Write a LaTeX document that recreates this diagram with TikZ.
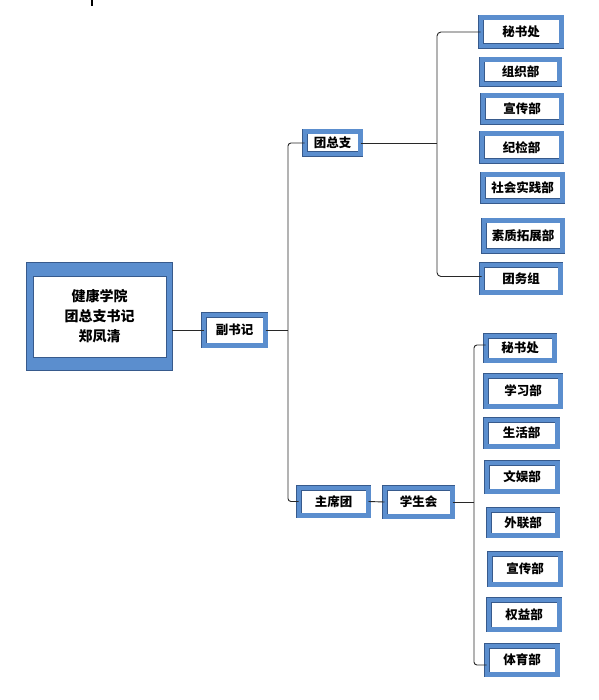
\documentclass[tikz,border=0pt]{standalone}
\usepackage{fontspec}
\newfontfamily\cjk{Noto Sans CJK SC}
\definecolor{boxblue}{RGB}{91,142,206}
\definecolor{edgec}{RGB}{55,90,140}
\definecolor{linec}{RGB}{40,40,40}
\tikzset{
  dept/.style={draw=edgec, double=boxblue, double distance=4.5pt, line width=0.5pt,
    fill=white, inner sep=0pt, font=\cjk\bfseries\fontsize{12.5}{14}\selectfont},
  conn/.style={draw=linec, line width=0.9pt},
}
\begin{document}
\begin{tikzpicture}[x=1pt,y=-1pt]
\useasboundingbox (0,0) rectangle (598,700);
% stray tick
\draw[line width=1.2pt, black] (92,0) -- (92,6);
% main box
\node[draw=edgec, fill=boxblue, line width=0.5pt, minimum width=146pt, minimum height=108pt, inner sep=0pt] (main) at (99,316) {};
\node[draw=edgec, fill=white, line width=0.5pt, minimum width=133pt, minimum height=81pt, inner sep=0pt, align=center,
  font=\cjk\bfseries\fontsize{14}{20}\selectfont] (mainin) at (99.5,316.5) {健康学院\\团总支书记\\郑凤清};
% level 2
\node[dept, minimum width=61.5pt, minimum height=30.5pt] (A) at (234.5,330) {副书记};
\node[dept, minimum width=55.5pt, minimum height=22.5pt] (B) at (332.5,143) {团总支};
\node[dept, minimum width=69.5pt, minimum height=27.5pt] (C) at (333.5,501.5) {主席团};
\node[dept, minimum width=67.5pt, minimum height=28.5pt] (D) at (418.5,502) {学生会};
% top right
\node[dept, minimum width=80.5pt, minimum height=28.5pt] (t1) at (521,32) {秘书处};
\node[dept, minimum width=77.5pt, minimum height=24.5pt] (t2) at (520.5,72) {组织部};
\node[dept, minimum width=78.5pt, minimum height=26.5pt] (t3) at (522,109) {宣传部};
\node[dept, minimum width=79.5pt, minimum height=27.5pt] (t4) at (521.5,147.5) {纪检部};
\node[dept, minimum width=79.5pt, minimum height=26.5pt] (t5) at (522.5,188) {社会实践部};
\node[dept, minimum width=78.5pt, minimum height=30.5pt] (t6) at (523,236) {素质拓展部};
\node[dept, minimum width=78.5pt, minimum height=27.5pt] (t7) at (521,278.5) {团务组};
% bottom right
\node[dept, minimum width=68.5pt, minimum height=24.5pt] (b1) at (520,348) {秘书处};
\node[dept, minimum width=74.5pt, minimum height=30.5pt] (b2) at (523,391) {学习部};
\node[dept, minimum width=71.5pt, minimum height=26.5pt] (b3) at (521.5,433) {生活部};
\node[dept, minimum width=70.5pt, minimum height=28.5pt] (b4) at (522,477) {文娱部};
\node[dept, minimum width=68.5pt, minimum height=25.5pt] (b5) at (523,522.5) {外联部};
\node[dept, minimum width=70.5pt, minimum height=30.5pt] (b6) at (525,569) {宣传部};
\node[dept, minimum width=70.5pt, minimum height=29.5pt] (b7) at (524,614.5) {权益部};
\node[dept, minimum width=70.5pt, minimum height=28.5pt] (b8) at (522,660) {体育部};
% spines
\coordinate (spine) at (288,330);
\coordinate (tspine) at (437,150);
\coordinate (bspine) at (474,505);
% connectors
\draw[conn] (A.west) -- (A.west -| main.east);
\draw[conn] (A.east) -- (A.east -| spine);
\draw[conn, rounded corners=3pt] (B.west) -| (spine) |- (C.west);
\draw[conn] (B.east) -- (B.east -| tspine);
\draw[conn, rounded corners=4pt] ([yshift=0pt]t1.west) -| (tspine) |- ([yshift=2pt]t7.west);
\draw[conn] (C.east) -- (D.west);
\draw[conn] (D.east) -- (D.east -| bspine);
\draw[conn, rounded corners=3pt] ([yshift=3pt]b1.west) -| (bspine) |- ([yshift=-5pt]b8.west);
\end{tikzpicture}
\end{document}
